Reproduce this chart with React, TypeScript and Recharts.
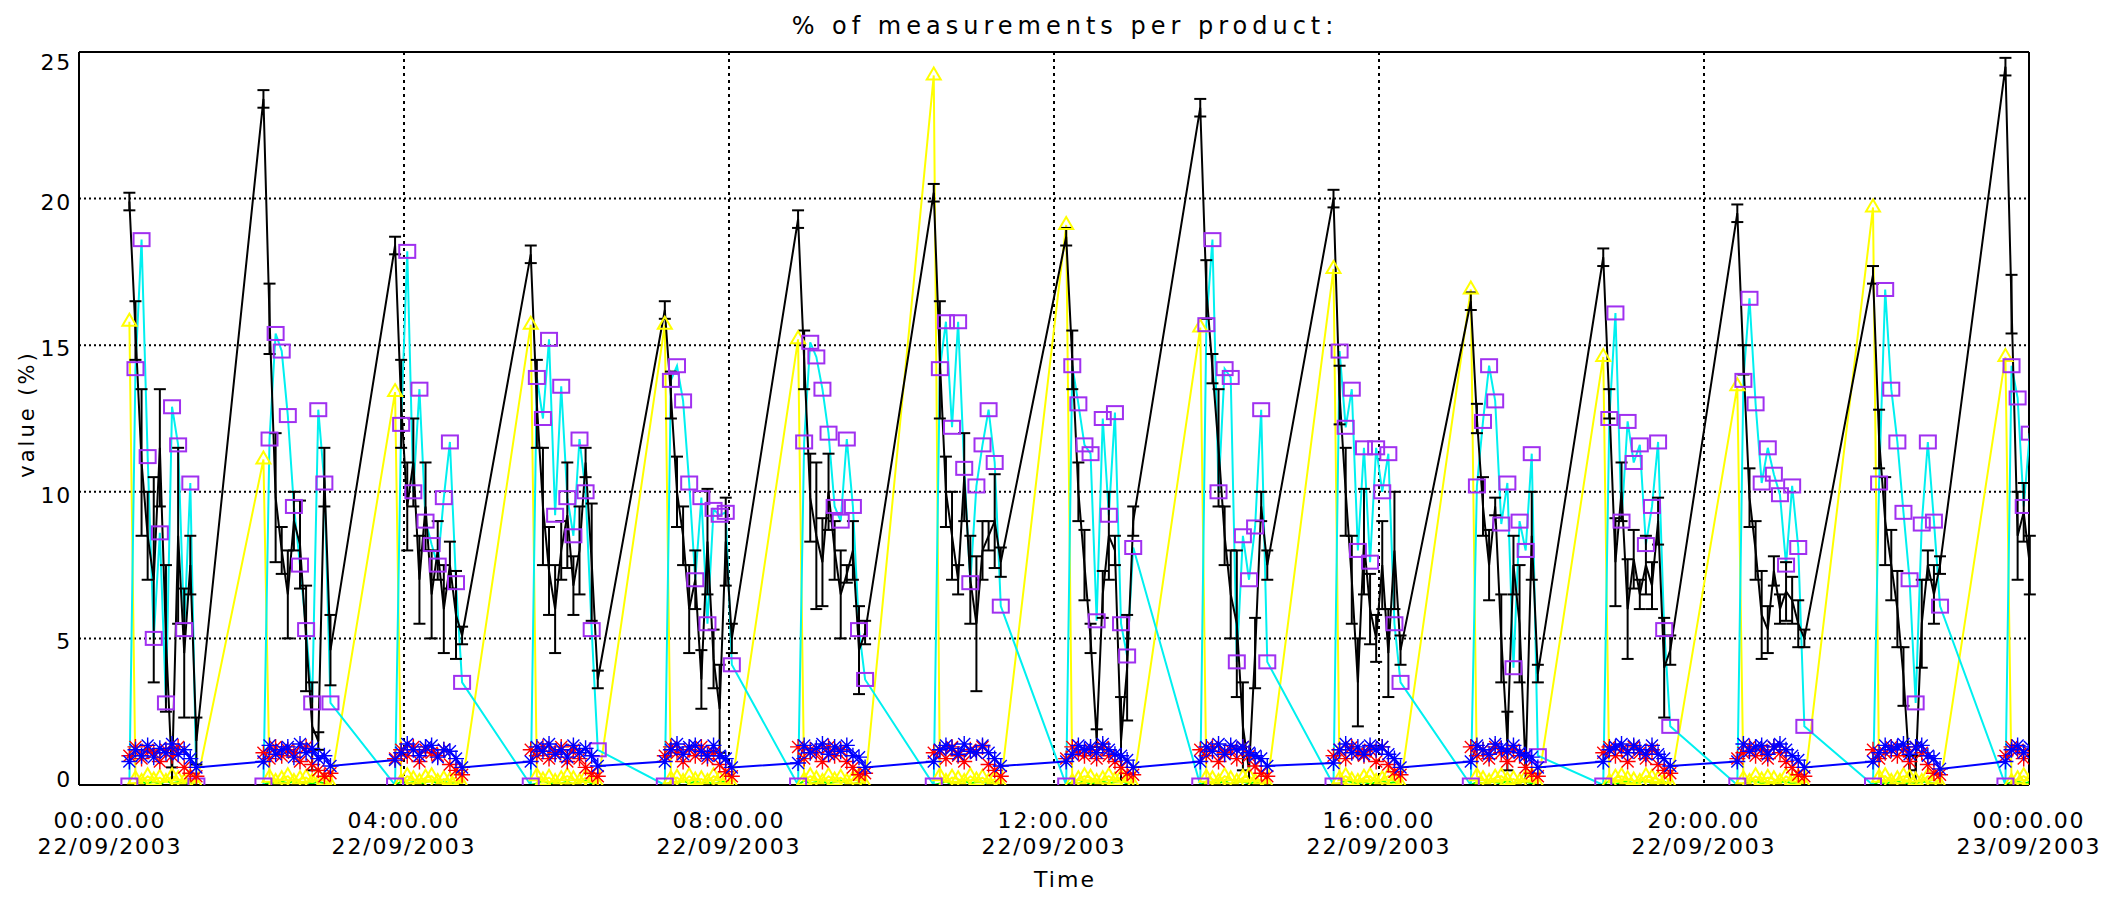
import React from "react";
import { ComposedChart, Line, XAxis, YAxis, CartesianGrid, ErrorBar, ReferenceLine } from "recharts";

// ---- categories / ticks ----
const clusterStarts = [0.62, 2.27, 3.89, 5.56, 7.21, 8.85, 10.52, 12.15, 13.8, 15.44, 17.13, 18.76, 20.41, 22.08, 23.71];
const sampleMinutes = [0, 4.5, 9, 13.5, 18, 22.5, 27, 31.5, 36, 40.5, 45, 49.5];
const xTicks = [0, 4, 8, 12, 16, 20, 24];
const xTickTimes = ["00:00.00", "04:00.00", "08:00.00", "12:00.00", "16:00.00", "20:00.00", "00:00.00"];
const xTickDates = ["22/09/2003", "22/09/2003", "22/09/2003", "22/09/2003", "22/09/2003", "22/09/2003", "23/09/2003"];
const yTicks = [0, 5, 10, 15, 20, 25];
const timeEnd = 24;

// ---- series values (one row per cluster) ----
const blackValues = [
  [19.9, 15.5, 11.0, 8.5, 7.0, 11.5, 5.0, 0.3, 8.5, 4.5, 7.5, 1.5],
  [23.4, 15.9, 9.8, 8.0, 6.5, 9.0, 8.2, 5.0, 2.0, 1.5, 10.5, 4.6],
  [18.4, 13.0, 9.5, 11.0, 7.0, 9.5, 6.5, 8.0, 6.0, 7.5, 5.8, 5.1],
  [18.1, 13.0, 9.5, 7.3, 6.0, 8.0, 9.2, 6.8, 8.0, 11.0, 7.6, 3.6],
  [16.2, 13.3, 10.0, 8.5, 6.0, 7.0, 3.6, 8.3, 4.3, 2.6, 8.3, 5.0],
  [19.3, 14.5, 9.8, 8.5, 7.6, 10.0, 8.0, 6.5, 7.2, 8.0, 4.6, 5.2],
  [20.2, 14.5, 10.0, 8.5, 7.0, 10.5, 7.0, 5.5, 8.0, 8.5, 9.0, 7.6],
  [18.7, 14.5, 10.0, 7.5, 5.0, 1.6, 6.5, 8.5, 8.0, 1.5, 4.0, 9.0],
  [23.1, 16.9, 14.2, 11.5, 8.5, 6.5, 5.5, 2.0, 0.5, 4.5, 9.5, 7.5],
  [20.0, 13.3, 10.0, 7.0, 3.5, 8.3, 6.0, 5.0, 7.5, 4.5, 8.0, 4.6],
  [16.5, 12.5, 9.5, 7.5, 9.5, 5.0, 1.5, 7.5, 5.5, 0.5, 8.5, 3.8],
  [18.0, 13.0, 7.6, 10.0, 6.0, 7.7, 6.5, 7.5, 6.8, 9.0, 4.0, 4.6],
  [19.5, 14.5, 9.8, 8.0, 5.8, 5.3, 7.3, 6.0, 6.6, 6.3, 5.5, 5.0],
  [17.4, 11.8, 9.0, 7.5, 6.0, 3.7, 0.5, 0.5, 5.5, 7.5, 6.5, 7.5],
  [24.5, 16.4, 8.5, 9.3, 7.5, 4.5, 6.0, 8.0, 7.0, 6.5, 7.5, 5.0],
];
const blackErrors = [
  [0.3, 1.0, 2.5, 1.5, 3.5, 2.0, 2.5, 0.3, 3.0, 2.2, 1.0, 0.8],
  [0.3, 1.2, 2.2, 0.8, 1.5, 1.0, 1.5, 1.8, 1.5, 0.3, 1.0, 1.2],
  [0.3, 1.5, 1.5, 1.5, 1.5, 1.5, 1.5, 1.0, 1.5, 0.8, 1.5, 0.3],
  [0.3, 1.5, 2.0, 1.5, 1.5, 1.0, 1.8, 1.0, 1.5, 0.5, 2.0, 0.3],
  [0.3, 0.8, 1.2, 1.0, 1.5, 1.0, 1.0, 1.8, 1.0, 1.5, 1.5, 0.5],
  [0.3, 1.0, 1.5, 2.5, 1.5, 1.3, 1.0, 1.5, 0.3, 1.0, 1.5, 0.4],
  [0.3, 2.0, 1.2, 1.5, 0.5, 1.5, 1.5, 2.3, 1.0, 0.5, 1.6, 0.5],
  [0.3, 1.0, 1.0, 1.2, 0.5, 0.3, 0.8, 1.5, 0.5, 1.5, 1.8, 0.5],
  [0.3, 1.0, 0.5, 2.0, 1.0, 1.5, 2.5, 1.5, 0.5, 1.2, 0.5, 0.5],
  [0.3, 1.0, 1.5, 1.5, 1.5, 1.8, 1.2, 0.8, 1.5, 1.5, 2.0, 0.5],
  [0.3, 0.5, 1.0, 1.2, 0.3, 1.5, 1.0, 1.0, 2.0, 0.5, 1.5, 0.3],
  [0.3, 0.5, 1.5, 1.0, 1.7, 1.0, 0.5, 1.0, 0.8, 0.8, 1.7, 0.5],
  [0.3, 0.5, 1.0, 1.0, 1.5, 0.8, 0.5, 0.5, 1.0, 0.8, 0.8, 0.3],
  [0.3, 1.0, 1.5, 1.2, 1.3, 1.0, 0.5, 0.5, 1.5, 0.5, 1.0, 0.3],
  [0.3, 1.0, 1.5, 1.0, 1.0, 1.2, 0.8, 1.0, 0.6, 0.8, 1.0, 0.5],
];
const cyanValues = [
  [0, 14.2, 18.6, 11.2, 5.0, 8.6, 2.8, 12.9, 11.6, 5.3, 10.3, 0],
  [0, 11.8, 15.4, 14.8, 12.6, 9.5, 7.5, 5.3, 2.8, 12.8, 10.3, 2.8],
  [0, 12.3, 18.2, 10.0, 13.5, 9.0, 8.2, 7.5, 9.8, 11.7, 6.9, 3.5],
  [0, 13.9, 12.5, 15.2, 9.2, 13.6, 9.8, 8.5, 11.8, 10.0, 5.3, 1.2],
  [0, 13.8, 14.3, 13.1, 10.3, 7.0, 9.8, 5.5, 9.4, 9.2, 9.3, 4.1],
  [0, 11.7, 15.1, 14.6, 13.5, 12.0, 9.5, 9.0, 11.8, 9.5, 5.3, 3.6],
  [0, 14.2, 15.8, 12.2, 15.8, 10.8, 6.9, 10.2, 11.6, 12.8, 11.0, 6.1],
  [0, 14.3, 13.0, 11.6, 11.3, 5.6, 12.5, 9.2, 12.7, 5.5, 4.4, 8.1],
  [0, 15.7, 18.6, 10.0, 14.2, 13.9, 4.2, 8.5, 7.0, 8.8, 12.8, 4.2],
  [0, 14.8, 12.2, 13.5, 8.0, 11.5, 7.6, 11.5, 10.0, 11.3, 5.5, 3.5],
  [0, 10.2, 12.4, 14.3, 13.1, 8.9, 10.3, 4.0, 9.0, 8.0, 11.3, 1.0],
  [0, 12.5, 16.1, 9.0, 12.4, 11.0, 11.6, 8.2, 9.5, 11.7, 5.3, 2.0],
  [0, 13.8, 16.6, 13.0, 10.3, 11.5, 10.6, 9.9, 7.5, 10.2, 8.1, 2.0],
  [0, 10.3, 16.9, 13.5, 11.7, 9.3, 7.0, 2.8, 8.9, 11.7, 9.0, 6.1],
  [0, 14.3, 13.2, 9.5, 12.0, 10.5, 8.0, 11.0, 9.0, 7.5, 10.0, 5.0],
];
const yellowValues = [
  [15.8, 0.2, 0.1, 0.3, 0.15, 0.25, 0.1, 0.3, 0.2, 0.1, 0.25, 0],
  [11.1, 0.25, 0.1, 0.2, 0.3, 0.1, 0.2, 0.25, 0.1, 0.3, 0.15, 0],
  [13.4, 0.1, 0.3, 0.2, 0.1, 0.25, 0.3, 0.1, 0.2, 0.15, 0.25, 0],
  [15.7, 0.3, 0.15, 0.25, 0.1, 0.2, 0.3, 0.2, 0.1, 0.25, 0.1, 0],
  [15.7, 0.2, 0.25, 0.1, 0.3, 0.15, 0.2, 0.1, 0.3, 0.2, 0.15, 0],
  [15.2, 0.15, 0.3, 0.2, 0.1, 0.3, 0.15, 0.25, 0.1, 0.2, 0.3, 0],
  [24.2, 0.3, 0.1, 0.25, 0.2, 0.1, 0.3, 0.15, 0.25, 0.1, 0.2, 0],
  [19.1, 0.1, 0.2, 0.3, 0.25, 0.1, 0.2, 0.3, 0.15, 0.25, 0.1, 0],
  [15.6, 0.25, 0.2, 0.1, 0.3, 0.2, 0.1, 0.25, 0.3, 0.1, 0.2, 0],
  [17.6, 0.2, 0.3, 0.15, 0.1, 0.25, 0.3, 0.1, 0.2, 0.3, 0.15, 0],
  [16.9, 0.3, 0.2, 0.1, 0.25, 0.3, 0.15, 0.2, 0.1, 0.25, 0.3, 0],
  [14.6, 0.1, 0.25, 0.3, 0.2, 0.15, 0.1, 0.3, 0.25, 0.2, 0.1, 0],
  [13.6, 0.2, 0.1, 0.3, 0.15, 0.25, 0.2, 0.1, 0.3, 0.15, 0.25, 0],
  [19.7, 0.25, 0.3, 0.1, 0.2, 0.3, 0.25, 0.15, 0.1, 0.3, 0.2, 0],
  [14.6, 0.1, 0.2, 0.3, 0.15, 0.2, 0.1, 0.25, 0.3, 0.1, 0.2, 0],
];
const blueValues = [
  [0.8, 1.2, 1.0, 1.35, 0.95, 1.25, 1.1, 1.4, 1.05, 1.2, 0.9, 0.6],
  [0.8, 1.35, 1.05, 1.2, 1.3, 0.95, 1.4, 1.1, 1.25, 0.9, 1.0, 0.65],
  [0.85, 1.1, 1.4, 1.2, 1.0, 1.3, 1.35, 0.95, 1.2, 1.15, 0.9, 0.6],
  [0.8, 1.3, 1.15, 1.4, 1.05, 1.2, 0.95, 1.35, 1.1, 1.25, 1.0, 0.65],
  [0.8, 1.2, 1.4, 1.05, 1.3, 1.35, 1.15, 1.0, 1.35, 1.0, 0.9, 0.6],
  [0.75, 1.35, 1.1, 1.25, 1.4, 1.05, 1.3, 1.15, 1.35, 1.0, 0.95, 0.6],
  [0.8, 1.2, 1.35, 1.25, 1.05, 1.4, 1.15, 1.1, 1.35, 1.1, 0.9, 0.65],
  [0.8, 1.05, 1.35, 1.2, 1.3, 1.1, 1.4, 1.2, 1.05, 1.0, 0.85, 0.6],
  [0.8, 1.3, 1.15, 1.4, 1.05, 1.35, 1.2, 1.3, 1.1, 1.0, 0.9, 0.65],
  [0.75, 1.2, 1.4, 1.1, 1.3, 1.05, 1.35, 1.2, 1.3, 1.05, 0.9, 0.6],
  [0.8, 1.35, 1.2, 1.05, 1.4, 1.25, 1.15, 1.35, 1.1, 1.0, 0.95, 0.6],
  [0.8, 1.2, 1.3, 1.4, 1.1, 1.35, 1.2, 1.05, 1.35, 1.05, 0.9, 0.65],
  [0.8, 1.4, 1.15, 1.3, 1.35, 1.05, 1.3, 1.4, 1.2, 1.0, 0.85, 0.6],
  [0.8, 1.1, 1.35, 1.2, 1.3, 1.4, 1.05, 1.3, 1.35, 1.0, 0.9, 0.55],
  [0.8, 1.2, 1.35, 1.1, 1.3, 1.2, 1.4, 1.15, 1.2, 1.0, 0.9, 0.6],
];
const redValues = [
  [1.0, 1.3, 0.9, 1.2, 1.1, 0.8, 1.2, 1.0, 1.3, 0.6, 0.4, 0.3],
  [1.1, 0.9, 1.3, 1.0, 1.2, 1.1, 0.8, 1.3, 0.7, 0.5, 0.3, 0.4],
  [0.9, 1.2, 1.0, 1.3, 0.8, 1.2, 1.1, 1.0, 1.2, 0.7, 0.5, 0.35],
  [1.2, 1.0, 1.3, 0.9, 1.1, 1.3, 0.8, 1.2, 0.9, 0.6, 0.4, 0.3],
  [1.0, 1.3, 1.1, 0.8, 1.2, 1.0, 1.3, 0.9, 1.1, 0.7, 0.45, 0.3],
  [1.3, 0.9, 1.2, 1.1, 0.8, 1.3, 1.0, 1.2, 0.8, 0.6, 0.35, 0.4],
  [1.1, 1.2, 0.9, 1.3, 1.0, 0.8, 1.2, 1.1, 1.3, 0.7, 0.5, 0.3],
  [0.9, 1.3, 1.1, 1.0, 1.2, 0.9, 1.3, 1.0, 0.8, 0.6, 0.4, 0.35],
  [1.2, 1.0, 1.3, 0.8, 1.1, 1.2, 0.9, 1.3, 1.0, 0.65, 0.4, 0.3],
  [1.0, 1.2, 0.9, 1.3, 1.1, 1.0, 1.2, 0.8, 1.3, 0.7, 0.45, 0.35],
  [1.3, 1.0, 1.2, 0.9, 1.3, 1.1, 0.8, 1.2, 1.0, 0.6, 0.4, 0.3],
  [1.1, 1.3, 1.0, 1.2, 0.8, 1.3, 1.1, 0.9, 1.2, 0.7, 0.5, 0.4],
  [0.9, 1.1, 1.3, 1.0, 1.2, 0.9, 1.3, 1.1, 0.8, 0.6, 0.35, 0.3],
  [1.2, 0.9, 1.1, 1.3, 1.0, 1.2, 0.8, 1.3, 1.1, 0.7, 0.4, 0.35],
  [1.0, 1.3, 1.2, 0.9, 1.1, 1.3, 1.0, 1.2, 0.9, 0.6, 0.45, 0.3],
];
const greenValues = [
  [0, 0.05, 0.1, 0.05, 0.12, 0.02, 0.15, 0.05, 0.1, 0.05, 0.1, 0],
  [0, 0.1, 0.05, 0.12, 0.05, 0.15, 0.02, 0.1, 0.05, 0.12, 0.05, 0],
  [0, 0.12, 0.05, 0.1, 0.02, 0.1, 0.15, 0.05, 0.12, 0.05, 0.1, 0],
  [0, 0.05, 0.15, 0.05, 0.1, 0.05, 0.12, 0.02, 0.1, 0.15, 0.05, 0],
  [0, 0.1, 0.02, 0.15, 0.05, 0.12, 0.05, 0.1, 0.02, 0.1, 0.12, 0],
  [0, 0.15, 0.05, 0.1, 0.12, 0.05, 0.1, 0.15, 0.05, 0.02, 0.1, 0],
  [0, 0.05, 0.12, 0.02, 0.1, 0.15, 0.05, 0.1, 0.12, 0.05, 0.1, 0],
  [0, 0.1, 0.05, 0.15, 0.02, 0.1, 0.12, 0.05, 0.1, 0.15, 0.05, 0],
  [0, 0.12, 0.1, 0.05, 0.15, 0.02, 0.1, 0.12, 0.05, 0.1, 0.05, 0],
  [0, 0.05, 0.15, 0.1, 0.05, 0.12, 0.02, 0.1, 0.15, 0.05, 0.1, 0],
  [0, 0.1, 0.05, 0.12, 0.1, 0.05, 0.15, 0.02, 0.1, 0.12, 0.05, 0],
  [0, 0.15, 0.02, 0.1, 0.12, 0.05, 0.1, 0.15, 0.05, 0.1, 0.12, 0],
  [0, 0.05, 0.1, 0.15, 0.05, 0.12, 0.02, 0.1, 0.12, 0.05, 0.1, 0],
  [0, 0.12, 0.05, 0.1, 0.15, 0.02, 0.1, 0.05, 0.12, 0.1, 0.05, 0],
  [0, 0.1, 0.12, 0.05, 0.1, 0.15, 0.05, 0.12, 0.02, 0.1, 0.05, 0],
];

// ---- build table (samples after the end of the time axis are not shown) ----
const rows: any[] = [];
clusterStarts.forEach((start, c) => {
  sampleMinutes.forEach((m, i) => {
    const t = start + m / 60;
    if (t > timeEnd + 0.02) return;
    rows.push({
      t,
      black: blackValues[c][i],
      err: blackErrors[c][i],
      cyan: cyanValues[c][i],
      yellow: yellowValues[c][i],
      blue: blueValues[c][i],
      red: redValues[c][i],
      green: greenValues[c][i],
    });
  });
});

const PURPLE = "#a030f0";
const CYAN = "#00f0f0";
const YELLOW = "#ffff00";
const BLUE = "#0000ff";
const RED = "#ff0000";
const GREEN = "#00ff00";
const FONT = "'DejaVu Sans', sans-serif";

const ok = (p: any) => p.cx != null && p.cy != null && !isNaN(p.cx) && !isNaN(p.cy);

const squareDot = (p: any) => {
  if (!ok(p)) return <g key={`s${p.index}`} />;
  return <rect key={`s${p.index}`} x={p.cx - 8} y={p.cy - 6.5} width={16} height={13} fill="none" stroke={PURPLE} strokeWidth={2} />;
};
const triangleDot = (p: any) => {
  if (!ok(p)) return <g key={`tr${p.index}`} />;
  const { cx, cy } = p;
  return <path key={`tr${p.index}`} d={`M${cx},${cy - 8}L${cx + 7},${cy + 4}L${cx - 7},${cy + 4}Z`} fill="none" stroke={YELLOW} strokeWidth={2} />;
};
const asteriskDot = (color: string, prefix: string) => (p: any) => {
  if (!ok(p)) return <g key={`${prefix}${p.index}`} />;
  const { cx, cy } = p;
  const r = 8;
  const d = 6;
  return (
    <path
      key={`${prefix}${p.index}`}
      d={`M${cx - r},${cy}h${2 * r}M${cx},${cy - r}v${2 * r}M${cx - d},${cy - d}l${2 * d},${2 * d}M${cx - d},${cy + d}l${2 * d},${-2 * d}`}
      stroke={color}
      strokeWidth={1.4}
      fill="none"
    />
  );
};

const tickStyle: React.CSSProperties = { fontFamily: FONT, fontSize: 22, letterSpacing: 1.8, fill: "#000" };

const YTick = (p: any) => {
  const v = p.payload.value;
  const shift = v === yTicks[yTicks.length - 1] ? 10 : v === yTicks[0] ? -6 : 3;
  return (
    <text x={p.x} y={p.y + shift} dy={8} textAnchor="end" style={tickStyle}>
      {v}
    </text>
  );
};

const XTick = (p: any) => {
  const i = xTicks.indexOf(p.payload.value);
  const nudge = i === 0 ? 31 : 0;
  return (
    <g>
      <text x={p.x + nudge} y={p.y} dy={41} textAnchor="middle" style={tickStyle}>
        {xTickTimes[i]}
      </text>
      <text x={p.x + nudge} y={p.y} dy={67} textAnchor="middle" style={tickStyle}>
        {xTickDates[i]}
      </text>
    </g>
  );
};

const labelBase: React.CSSProperties = {
  position: "absolute",
  fontFamily: FONT,
  color: "#000",
  whiteSpace: "nowrap",
  transform: "translate(-50%, -50%)",
};

export default function App() {
  return (
    <div style={{ position: "relative", width: 2112, height: 883, background: "#fff" }}>
      <ComposedChart
        width={2112}
        height={883}
        data={rows}
        margin={{ top: 44, right: 91, left: 11, bottom: 46 }}
      >
        <CartesianGrid vertical={false} stroke="#000" strokeWidth={2} strokeDasharray="2 3" />
        <CartesianGrid horizontal={false} stroke="#000" strokeWidth={2} strokeDasharray="3 4" />
        <XAxis
          dataKey="t"
          type="number"
          domain={[0, 24]}
          ticks={xTicks}
          interval={0}
          allowDataOverflow
          height={60}
          tickLine={false}
          tickSize={0}
          tick={<XTick />}
          axisLine={{ stroke: "#000", strokeWidth: 2 }}
        />
        <YAxis
          type="number"
          domain={[0, 25]}
          ticks={yTicks}
          interval={0}
          allowDataOverflow
          width={60}
          tickLine={false}
          tickSize={0}
          tickMargin={7}
          tick={<YTick />}
          axisLine={{ stroke: "#000", strokeWidth: 2 }}
        />
        <ReferenceLine y={25} stroke="#000" strokeWidth={2} />
        <ReferenceLine x={24} stroke="#000" strokeWidth={2} />
        <Line dataKey="green" stroke={GREEN} strokeWidth={2} dot={false} activeDot={false} isAnimationActive={false} type="linear" />
        <Line dataKey="yellow" stroke={YELLOW} strokeWidth={2} dot={triangleDot} activeDot={false} isAnimationActive={false} type="linear" />
        <Line dataKey="cyan" stroke={CYAN} strokeWidth={2} dot={squareDot} activeDot={false} isAnimationActive={false} type="linear" />
        <Line dataKey="black" stroke="#000" strokeWidth={2} dot={false} activeDot={false} isAnimationActive={false} type="linear">
          <ErrorBar dataKey="err" direction="y" width={6} stroke="#000" strokeWidth={2} />
        </Line>
        <Line dataKey="red" stroke="none" strokeWidth={0} dot={asteriskDot(RED, "r")} activeDot={false} isAnimationActive={false} type="linear" />
        <Line dataKey="blue" stroke={BLUE} strokeWidth={2} dot={asteriskDot(BLUE, "b")} activeDot={false} isAnimationActive={false} type="linear" />
      </ComposedChart>
      <div style={{ ...labelBase, left: 1057, top: 18, fontSize: 24, letterSpacing: 5 }}>% of measurements per product:</div>
      <div style={{ ...labelBase, left: 19, top: 406, fontSize: 21, letterSpacing: 3, transform: "translate(-50%, -50%) rotate(-90deg)" }}>value (%)</div>
      <div style={{ ...labelBase, left: 1057, top: 871, fontSize: 22, letterSpacing: 2 }}>Time</div>
    </div>
  );
}
